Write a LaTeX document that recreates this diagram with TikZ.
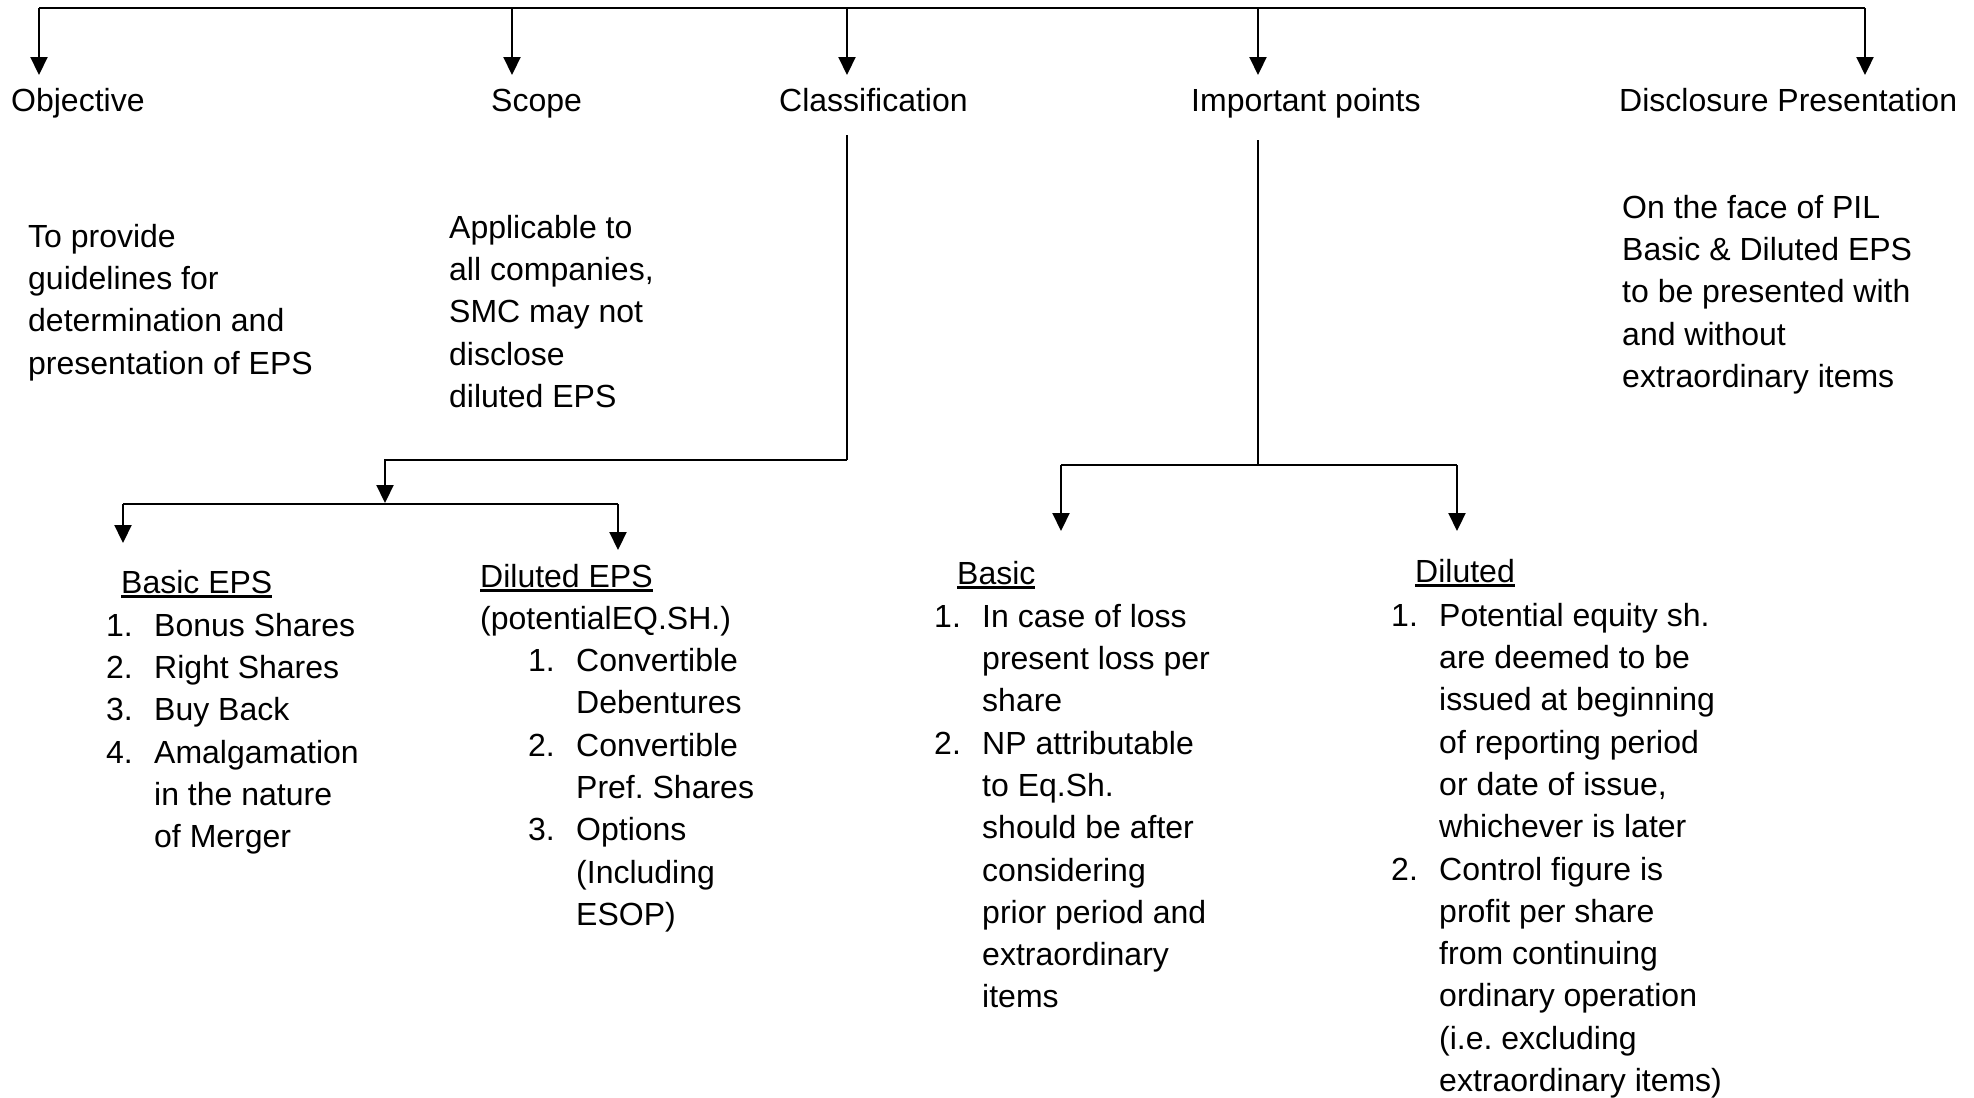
\documentclass[tikz,border=0pt]{standalone}
\usepackage{fontspec}
\setmainfont{Liberation Sans}
\usetikzlibrary{arrows.meta}
\newcommand{\myul}[1]{\setbox0\hbox{#1}\rlap{\rule[-4.5pt]{\wd0}{2.4pt}}\box0}
\newcommand{\itm}[1]{\makebox[48pt][l]{#1}}
\newcommand{\ind}{\hspace*{48pt}}
\frenchspacing
\begin{document}
\begin{tikzpicture}[x=1pt,y=-1pt,
  lbl/.style={inner sep=0pt, anchor=base west, font=\fontsize{32}{42.3}\selectfont},
  para/.style={inner sep=0pt, anchor=north west, align=left, font=\fontsize{32}{42.3}\selectfont},
  conn/.style={line width=2.2pt},
  arr/.style={line width=2.2pt, -{Triangle[length=18pt,width=17pt]}}]
\useasboundingbox (0,0) rectangle (1974,1098);
\fill[white] (0,0) rectangle (1974,1098);

% top labels
\node[lbl] (obj)   at (11,111)   {Objective};
\node[lbl] (scope) at (491,111)  {Scope};
\node[lbl] (cls)   at (779,111)  {Classification};
\node[lbl] (imp)   at (1191,111) {Important points};
\node[lbl] (disc)  at (1619,111) {Disclosure Presentation};

% top bus and arrows
\coordinate (busY) at (0,8);
\coordinate (objTip) at (39,75);
\coordinate (scopeTip) at (512,75);
\coordinate (clsTip) at (847,75);
\coordinate (impTip) at (1258,75);
\coordinate (discTip) at (1865,75);
\draw[conn] (objTip |- busY) -- (discTip |- busY);
\foreach \t in {objTip,scopeTip,clsTip,impTip,discTip}
  \draw[arr] (\t |- busY) -- (\t);

% paragraphs
\node[para] (objP) at (28,217.4) {\strut To provide\\guidelines for\\determination and\\presentation of EPS};
\node[para] (scopeP) at (449,208.4) {\strut Applicable to\\all companies,\\SMC may not\\disclose\\diluted EPS};
\node[para] (discP) at (1622,188.4) {\strut On the face of PIL\\Basic \& Diluted EPS\\to be presented with\\and without\\extraordinary items};

% classification branch
\coordinate (clsTop) at (847,135);
\coordinate (clsBend) at (847,460);
\coordinate (clsSub) at (385,503);
\draw[conn] (clsTop) -- (clsBend);
\draw[arr] (clsBend) -| (clsSub);
\coordinate (barY) at (0,504);
\coordinate (bEPSTip) at (123,543);
\coordinate (dEPSTip) at (618,550);
\draw[conn] (bEPSTip |- barY) -- (dEPSTip |- barY);
\draw[arr] (bEPSTip |- barY) -- (bEPSTip);
\draw[arr] (dEPSTip |- barY) -- (dEPSTip);

% important points branch
\coordinate (impTop) at (1258,140);
\coordinate (impBend) at (1258,465);
\coordinate (basTip) at (1061,531);
\coordinate (dilTip) at (1457,531);
\draw[conn] (impTop) -- (impBend);
\draw[conn] (basTip |- impBend) -- (dilTip |- impBend);
\draw[arr] (basTip |- impBend) -- (basTip);
\draw[arr] (dilTip |- impBend) -- (dilTip);

% Basic EPS
\node[lbl] (bEPS) at (121,593) {\myul{Basic EPS}};
\node[para] (bEPSL) at (106,606.4) {\strut\itm{1.}Bonus Shares\\\itm{2.}Right Shares\\\itm{3.}Buy Back\\\itm{4.}Amalgamation\\\ind in the nature\\\ind of Merger};

% Diluted EPS
\node[lbl] (dEPS) at (480,587) {\myul{Diluted EPS}};
\node[para] (dEPSL) at (480,599.4) {\strut(potentialEQ.SH.)\\\ind\itm{1.}Convertible\\\ind\ind Debentures\\\ind\itm{2.}Convertible\\\ind\ind Pref. Shares\\\ind\itm{3.}Options\\\ind\ind (Including\\\ind\ind ESOP)};

% Basic
\node[lbl] (bas) at (957,584) {\myul{Basic}};
\node[para] (basL) at (934,597.4) {\strut\itm{1.}In case of loss\\\ind present loss per\\\ind share\\\itm{2.}NP attributable\\\ind to Eq.Sh.\\\ind should be after\\\ind considering\\\ind prior period and\\\ind extraordinary\\\ind items};

% Diluted
\node[lbl] (dil) at (1415,582) {\myul{Diluted}};
\node[para] (dilL) at (1391,596.4) {\strut\itm{1.}Potential equity sh.\\\ind are deemed to be\\\ind issued at beginning\\\ind of reporting period\\\ind or date of issue,\\\ind whichever is later\\\itm{2.}Control figure is\\\ind profit per share\\\ind from continuing\\\ind ordinary operation\\\ind (i.e. excluding\\\ind extraordinary items)};
\end{tikzpicture}
\end{document}
